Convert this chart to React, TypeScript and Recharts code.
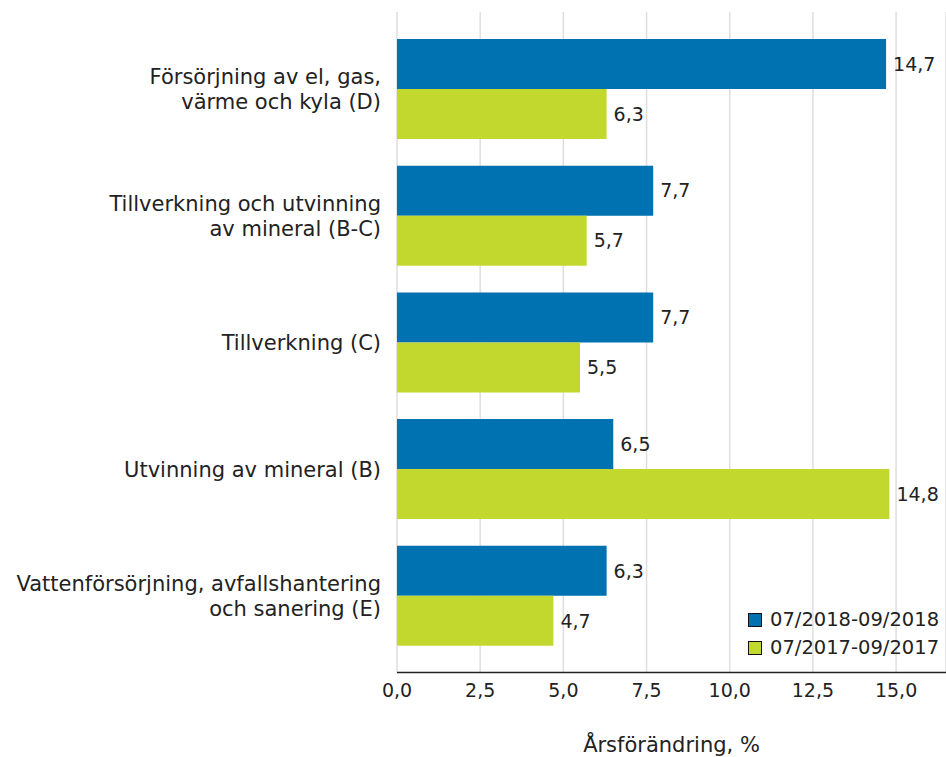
import { BarChart, Bar, XAxis, YAxis, CartesianGrid, LabelList } from 'recharts';

const categories = [
  'Försörjning av el, gas,\nvärme och kyla (D)',
  'Tillverkning och utvinning\nav mineral (B-C)',
  'Tillverkning (C)',
  'Utvinning av mineral (B)',
  'Vattenförsörjning, avfallshantering\noch sanering (E)',
];
const values2018 = [14.7, 7.7, 7.7, 6.5, 6.3];
const values2017 = [6.3, 5.7, 5.5, 14.8, 4.7];
const xTicks = [0, 2.5, 5, 7.5, 10, 12.5, 15];
const seriesNames = ['07/2018-09/2018', '07/2017-09/2017'];

const BLUE = '#0071b1';
const GREEN = '#c3d82f';
const FONT = '"DejaVu Sans", Verdana, sans-serif';

const chartData = categories.map((name, i) => ({
  name,
  a: values2018[i],
  b: values2017[i],
}));

const fmt = (v: number) => v.toFixed(1).replace('.', ',');

// multi-line category label, right aligned against the plot
const CategoryTick = ({ x, y, payload }: any) => {
  const lines = String(payload.value).split('\n');
  const lineH = 25;
  const first = -((lines.length - 1) * lineH) / 2;
  return (
    <text x={x - 8} y={y} textAnchor="end" fill="#222" fontSize={21} fontFamily={FONT}>
      {lines.map((l, i) => (
        <tspan key={i} x={x - 8} dy={i === 0 ? first + 7.5 : lineH}>
          {l}
        </tspan>
      ))}
    </text>
  );
};

const App = () => {
  return (
    <div style={{ position: 'absolute', left: 0, top: 0, width: 946, height: 757, fontFamily: FONT, background: '#fff' }}>
      <BarChart
        width={946}
        height={757}
        data={chartData}
        layout="vertical"
        margin={{ top: 12, right: 0, bottom: 0, left: 0 }}
        barGap={0}
        barSize={50}
      >
        <CartesianGrid horizontal={false} stroke="#dedede" strokeWidth={1.5} />
        <XAxis
          type="number"
          domain={[0, 16.5]}
          ticks={xTicks}
          tickFormatter={fmt}
          height={84.5}
          tickLine={false}
          tickMargin={5}
          axisLine={{ stroke: '#222', strokeWidth: 1.5 }}
          tick={{ fill: '#222', fontSize: 19 }}
          label={{ value: 'Årsförändring, %', position: 'insideBottom', offset: 5, fill: '#222', fontSize: 21 }}
        />
        <YAxis
          type="category"
          dataKey="name"
          width={397}
          axisLine={false}
          tickLine={false}
          padding={{ top: 14, bottom: 13 }}
          tick={<CategoryTick />}
          interval={0}
        />
        <Bar dataKey="a" name={seriesNames[0]} fill={BLUE} isAnimationActive={false}>
          <LabelList dataKey="a" position="right" offset={7} formatter={(v: any) => fmt(Number(v))} fill="#222" fontSize={19} />
        </Bar>
        <Bar dataKey="b" name={seriesNames[1]} fill={GREEN} isAnimationActive={false}>
          <LabelList dataKey="b" position="right" offset={7} formatter={(v: any) => fmt(Number(v))} fill="#222" fontSize={19} />
        </Bar>
      </BarChart>
      <div style={{ position: 'absolute', left: 748, top: 606, fontSize: 19.5, color: '#222', lineHeight: '28px' }}>
        {seriesNames.map((n, i) => (
          <div key={n} style={{ display: 'flex', alignItems: 'center' }}>
            <span
              style={{
                display: 'inline-block',
                width: 12,
                height: 12,
                border: '1px solid #111',
                background: i === 0 ? BLUE : GREEN,
                marginRight: 8,
              }}
            />
            <span>{n}</span>
          </div>
        ))}
      </div>
    </div>
  );
};

export default App;
